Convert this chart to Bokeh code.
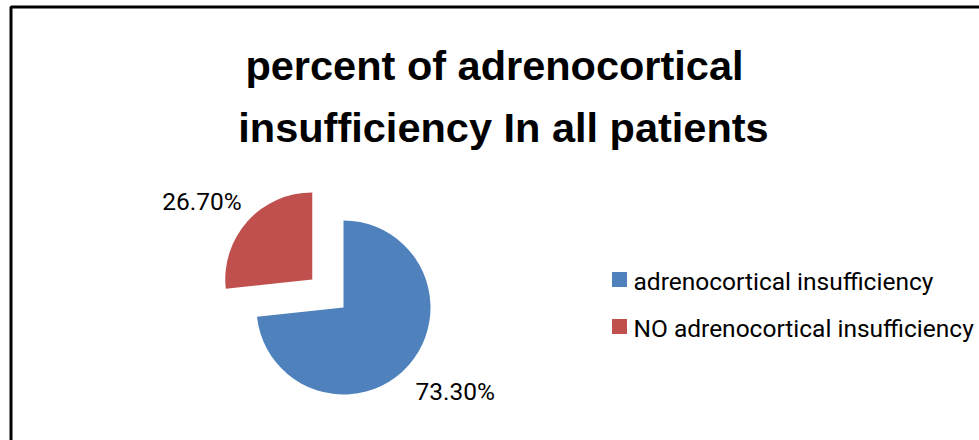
import math
from bokeh.plotting import figure
from bokeh.models import Range1d, BoxAnnotation, ColumnDataSource
from bokeh.core.properties import value
from bokeh.embed import file_html
from bokeh.resources import INLINE

# ---- data ----
categories = ["adrenocortical insufficiency", "NO adrenocortical insufficiency"]
percents = [73.3, 26.7]
pct_labels = ["73.30%", "26.70%"]
colors = ["#4F81BD", "#C0504D"]
title_lines = ["percent of adrenocortical", "insufficiency In all patients"]

W, H = 979, 440
p = figure(width=W, height=H, output_backend="svg", toolbar_location=None,
           x_range=Range1d(0, W), y_range=Range1d(0, H),
           x_axis_location=None, y_axis_location=None,
           min_border=0, outline_line_color=None, background_fill_color="white",
           border_fill_color="white")
p.grid.visible = False

def Y(py):  # pixel-from-top to data y
    return H - py

# chart border (extends past the window on right/bottom)
p.add_layout(BoxAnnotation(left=10.5, right=W + 50, top=Y(6.5), bottom=-50,
                           fill_color=None, fill_alpha=0, line_color="black",
                           line_alpha=1.0, line_width=3))

TITLE_FS = 41.5
SMALL_FS = 24.5
def base_fix(fs):  # baseline correction for rendering
    return 0.24 * fs

# title
title_centers = [494, 503]
title_baselines = [75, 137]
for t, cx, by in zip(title_lines, title_centers, title_baselines):
    p.text(x=[cx], y=[Y(by) + base_fix(TITLE_FS)], text=[t], text_align="center",
           text_baseline="alphabetic",
           text_font=value("Liberation Sans"), text_font_style="bold",
           text_font_size=f"{TITLE_FS}px", text_color="black")

# pie
cx, cy, r = 343, Y(307), 87
explode = [0, 42]
total = sum(percents)
cum = 0
xs, ys, starts, ends = [], [], [], []
for v, e in zip(percents, explode):
    a0 = math.pi / 2 - 2 * math.pi * cum / total
    cum += v
    a1 = math.pi / 2 - 2 * math.pi * cum / total
    mid = (a0 + a1) / 2
    xs.append(cx + e * math.cos(mid))
    ys.append(cy + e * math.sin(mid))
    starts.append(a0)
    ends.append(a1)
src = ColumnDataSource(dict(x=xs, y=ys, start=starts, end=ends, color=colors, cat=categories))
p.wedge(x="x", y="y", radius=r, start_angle="start", end_angle="end", direction="clock",
        fill_color="color", line_color=None, source=src)

# percentage labels (offsets from each slice's vertex)
label_offsets = [(72, -90), (-150, 72)]
for (ox, oy), lx, ly, lab in zip(label_offsets, xs, ys, pct_labels):
    p.text(x=[lx + ox], y=[ly + oy + base_fix(SMALL_FS)], text=[lab], text_align="left",
           text_baseline="alphabetic",
           text_font=value("Roboto"), text_font_size=f"{SMALL_FS}px", text_color="black")

# legend
leg_x, leg_y0, leg_dy = 619, 279, 47
for i, (c, cat) in enumerate(zip(colors, categories)):
    yy = Y(leg_y0 + i * leg_dy)
    p.rect(x=[leg_x], y=[yy], width=15, height=15, fill_color=c, line_color=None)
    p.text(x=[leg_x + 14], y=[yy - 8 + base_fix(SMALL_FS)], text=[cat], text_align="left",
           text_baseline="alphabetic",
           text_font=value("Roboto"), text_font_size=f"{SMALL_FS}px", text_color="black")

open("out.html", "w").write(file_html(p, INLINE))
